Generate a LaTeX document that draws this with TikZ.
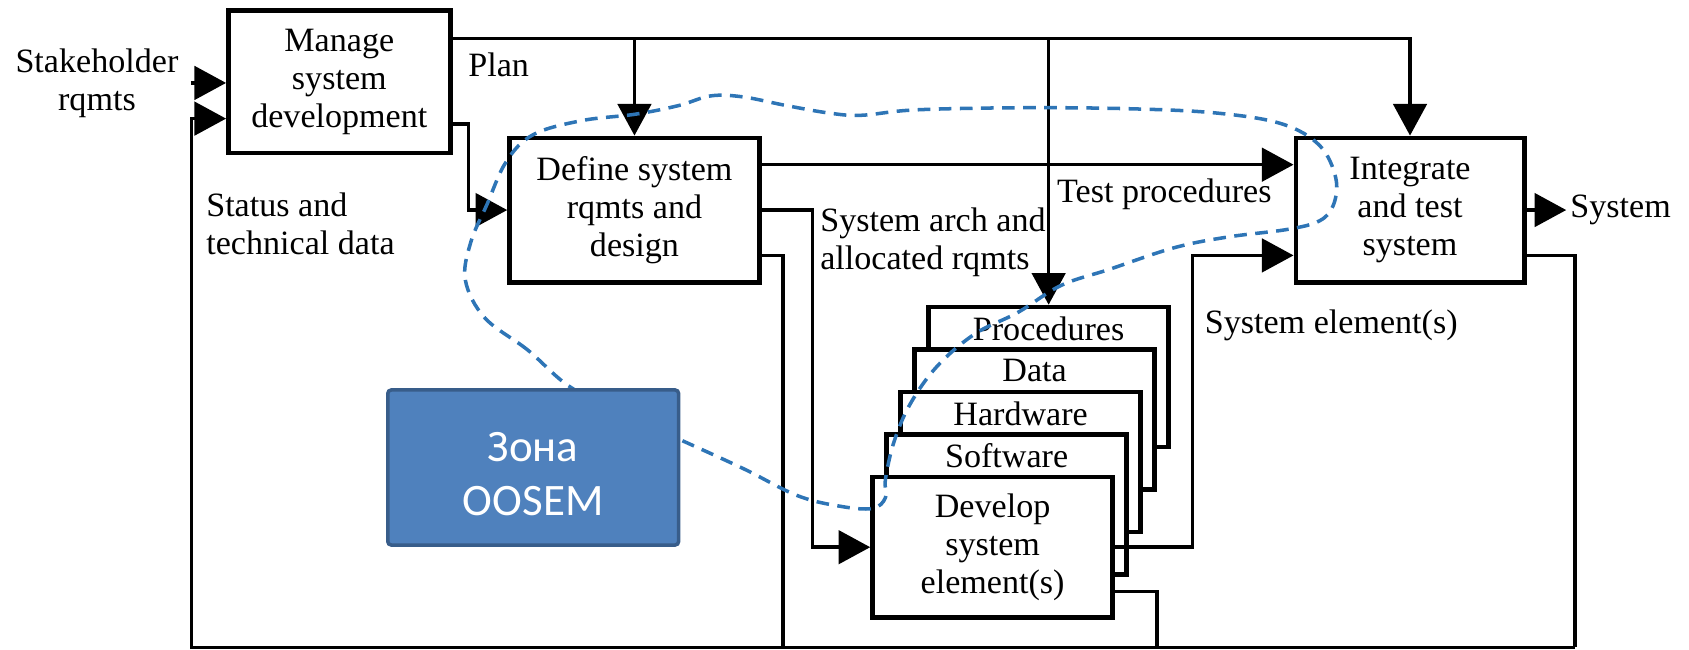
\documentclass[tikz,border=0pt]{standalone}
\usepackage{fontspec}
\setmainfont{Liberation Serif}
\newfontfamily\zonefont{Carlito}
\usepackage{tikz}
\usetikzlibrary{arrows.meta,calc}
\definecolor{zonefill}{RGB}{79,129,189}
\definecolor{zoneedge}{RGB}{56,93,138}
\definecolor{zonedash}{RGB}{46,117,182}
\newcommand{\unitpx}{0.10772mm}

\begin{document}
\begin{tikzpicture}[x=\unitpx, y=-\unitpx,
  font=\fontsize{9.7}{10.8}\selectfont,
  procbox/.style={draw, line width=1.3pt, fill=white, inner sep=0pt, align=center},
  wire/.style={line width=1pt},
  flow/.style={line width=1pt, -{Triangle[length=9pt,width=9.5pt]}},
  zone/.style={draw=zoneedge, fill=zonefill, line width=1pt, rounded corners=1pt,
    minimum width=270*\unitpx, minimum height=144*\unitpx},
  zonetext/.style={text=white, align=center, font=\zonefont\fontsize{12.8}{15.3}\selectfont}]
\useasboundingbox (0,0) rectangle (1568,603);

% Process boxes
\node[procbox, minimum width=206*\unitpx, minimum height=132*\unitpx] (manage) at (315,76) {Manage\\system\\development};
\node[procbox, minimum width=232*\unitpx, minimum height=134*\unitpx] (define) at (589,195) {Define system\\rqmts and\\design};
\node[procbox, minimum width=212*\unitpx, minimum height=134*\unitpx] (integ) at (1309,195) {Integrate\\and test\\system};

% Stack of element boxes, back to front
\foreach \nm/\txt [count=\i from 0] in {proc/Procedures, data/Data, hw/Hardware, sw/Software}{
  \node[procbox, minimum width=223*\unitpx, minimum height=130*\unitpx] (\nm) at ({973.5-13*\i},{350+39.5*\i}) {};
  \node (\nm-t) at ([yshift=-22*\unitpx]\nm.north) {\txt};
}
\node[procbox, minimum width=223*\unitpx, minimum height=130*\unitpx] (develop) at (921.5,508) {Develop\\system\\element(s)};

% Labels
\node[align=center] (stk) at (90,77) {Stakeholder\\rqmts};
\node (plantxt) at (463,60) {Plan};
\node[align=left, anchor=west] (status) at (180,208) {Status and\\technical data};
\node[align=left, anchor=west] (arch) at (750,225) {System arch and\\allocated rqmts};
\node (testp) at (1081,180) {Test procedures};
\node[anchor=west] (selem) at (1107,302) {System element(s)};
\node[anchor=west, inner sep=1pt] (sysout) at (1454,195) {System};

% Inputs of Manage, feedback along the bottom
\coordinate (bl) at (178,601);
\coordinate (br) at (1462,601);
\draw[flow] (stk.east) -- (stk.east -| manage.west);
\draw[flow] (br) -- (bl) |- ([yshift=34*\unitpx]manage.south west);

% Plan
\coordinate (plan) at ([yshift=-28*\unitpx]manage.north east);
\draw[flow] (plan) -| (integ.north);
\draw[flow] (plan -| define.north) -- (define.north);
\draw[flow] (plan -| proc.north) -- (proc.north);
\draw[flow] ([yshift=29*\unitpx]manage.south east) -- ++(15,0) |- (define.west);

% Define outputs
\coordinate (tp) at ([yshift=-27*\unitpx]define.north east);
\draw[flow] (tp) -- (tp -| integ.west);
\draw[flow] (define.east) -- ++(47,0) |- (develop.west);
\coordinate (d3) at ([yshift=27*\unitpx]define.south east);
\draw[wire] (d3) -- ++(20,0) coordinate (d3b) -- (d3b |- bl);

% Integrate outputs
\draw[flow] (integ.east) -- (sysout.west);
\coordinate (i2) at ([yshift=27*\unitpx]integ.south east);
\draw[wire] (i2) -| (br);

% Develop outputs
\draw[flow] (develop.east) -- ++(72,0) |- ([yshift=27*\unitpx]integ.south west);
\coordinate (dv2) at ([yshift=26*\unitpx]develop.south east);
\draw[wire] (dv2) -- ++(39,0) coordinate (dv2b) -- (dv2b |- bl);

% OOSEM zone outline
\draw[zonedash, line width=1pt, dash pattern=on 3.6pt off 2.4pt] plot[smooth cycle, tension=0.6] coordinates {
  (529,359) (490,325) (450,295) (432,260) (437,225) (452,190) (470,150) (495,125)
  (540,112) (590,106) (630,98) (660,89) (690,90) (730,98) (770,105) (800,107)
  (850,102) (950,100) (1050,101) (1130,105) (1190,115) (1225,135) (1240,165)
  (1238,190) (1225,205) (1195,213) (1140,220) (1090,230) (1030,250) (985,265)
  (945,290) (905,310) (870,340) (845,375) (830,410) (822,445) (822,462) (810,472)
  (780,470) (740,460) (690,435) (631,408) (580,385)};
\node[zone] (zone) at (495,434) {};
\node[zonetext] (zonet) at (495,440) {Зона\\OOSEM};

\end{tikzpicture}
\end{document}
